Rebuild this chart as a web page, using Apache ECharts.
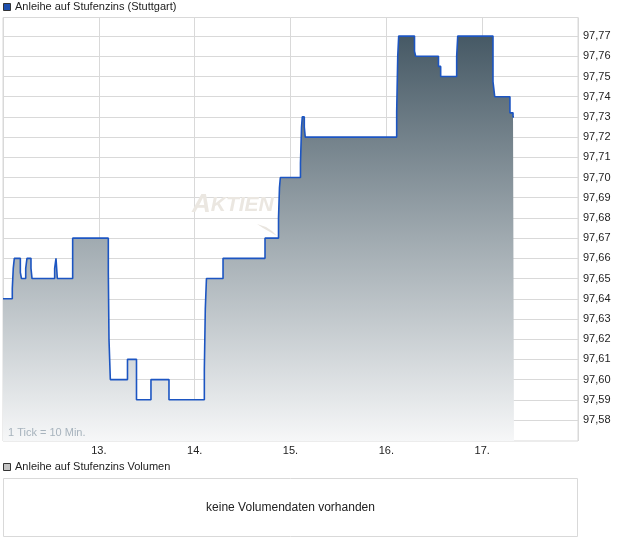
<!DOCTYPE html>
<html>
<head>
<meta charset="utf-8">
<script src="https://cdn.jsdelivr.net/npm/echarts@6/dist/echarts.min.js"></script>
<style>
html,body{margin:0;padding:0;background:#fff;}
#c{width:620px;height:546px;}
</style>
</head>
<body>
<div id="c"></div>
<script>
// Data: time in fractional days (day-of-month), price
const times = [12.000, 12.097, 12.107, 12.118, 12.181, 12.193, 12.237, 12.250, 12.292, 12.303,
  12.539, 12.553, 12.567, 12.727, 13.099, 13.106, 13.120, 13.299, 13.393, 13.544, 13.732,
  14.101, 14.111, 14.123, 14.296, 14.734, 14.875, 14.885, 14.894, 15.104, 15.115, 15.123,
  15.144, 15.154, 16.108, 16.119, 16.129, 16.294, 16.306, 16.544, 16.567, 16.734, 16.745,
  17.113, 17.131, 17.290, 17.322, 17.332];
const prices = [97.64, 97.645, 97.655, 97.66, 97.653, 97.65, 97.655, 97.66, 97.655, 97.65,
  97.655, 97.66, 97.65, 97.67, 97.653, 97.62, 97.60, 97.61, 97.59, 97.60, 97.59,
  97.605, 97.635, 97.65, 97.66, 97.67, 97.68, 97.695, 97.70, 97.707, 97.725, 97.73,
  97.725, 97.72, 97.7325, 97.76, 97.77, 97.7625, 97.76, 97.755, 97.75, 97.76, 97.77,
  97.7475, 97.74, 97.732, 97.73, 97.73];
const yTicks = [97.58, 97.59, 97.60, 97.61, 97.62, 97.63, 97.64, 97.65, 97.66, 97.67,
  97.68, 97.69, 97.70, 97.71, 97.72, 97.73, 97.74, 97.75, 97.76, 97.77];
const xDays = [13, 14, 15, 16, 17];
const seriesName = 'Anleihe auf Stufenzins (Stuttgart)';
const volumeName = 'Anleihe auf Stufenzins Volumen';
const noVolumeText = 'keine Volumendaten vorhanden';
const tickNote = '1 Tick = 10 Min.';

const FONT = '"Liberation Sans", Arial, sans-serif';
const chart = echarts.init(document.getElementById('c'), null, {renderer: 'canvas'});
const data = times.map((t, i) => [t, prices[i]]);

chart.setOption({
  animation: false,
  textStyle: {fontFamily: FONT},
  grid: {left: 3, right: 42, top: 17.5, bottom: 105, show: true, borderColor: '#d9d9d9', borderWidth: 1, backgroundColor: 'transparent'},
  xAxis: {
    type: 'value', min: 12, max: 18, interval: 1,
    axisLine: {show: false}, axisTick: {show: false},
    axisLabel: {
      color: '#222', fontSize: 11, fontFamily: FONT, margin: 4,
      showMinLabel: false, showMaxLabel: false,
      formatter: v => xDays.includes(v) ? v + '.' : ''
    },
    splitLine: {show: true, lineStyle: {color: '#d9d9d9', width: 1}}
  },
  yAxis: {
    type: 'value', position: 'right', min: 97.5696, max: 97.7792,
    axisLine: {show: false},
    axisTick: {show: false, customValues: yTicks},
    axisLabel: {
      customValues: yTicks,
      color: '#222', fontSize: 11, fontFamily: FONT, margin: 5,
      formatter: v => v.toFixed(2).replace('.', ',')
    },
    splitLine: {show: true, lineStyle: {color: '#d9d9d9', width: 1}}
  },
  series: [{
    name: seriesName,
    type: 'line', step: 'end', data: data, showSymbol: false,
    lineStyle: {color: '#1c55c2', width: 1.6},
    areaStyle: {
      origin: 'start', opacity: 1,
      color: {type: 'linear', x: 0, y: 0, x2: 0, y2: 1, colorStops: [
        {offset: 0, color: '#465965'},
        {offset: 0.5, color: '#a0aab0'},
        {offset: 1, color: '#f6f7f8'}
      ]}
    },
    z: 3
  }],
  graphic: [
    {type: 'text', left: 192, top: 192, z: 1, silent: true,
      style: {text: '{a|A}{b|KTIEN}', fontStyle: 'italic',
        rich: {a: {fontSize: 26, fontFamily: FONT, fontStyle: 'italic', fill: '#ebe7e1', fontWeight: 'bold'},
               b: {fontSize: 21, fontFamily: FONT, fontStyle: 'italic', fill: '#ebe7e1', fontWeight: 'bold'}}}},
    {type: 'polygon', z: 1, silent: true, shape: {points: [[257, 224], [266, 227], [272, 231], [277, 236], [270, 232], [263, 228]]},
      style: {fill: '#e9e5df'}},
    {type: 'text', left: 8, top: 427, z: 10,
      style: {text: tickNote, fontSize: 11, fontFamily: FONT, fill: '#a7b3bd'}},
    {type: 'rect', shape: {x: 3.5, y: 3.5, width: 7, height: 7},
      style: {fill: '#1e4fae', stroke: '#333', lineWidth: 1}},
    {type: 'text', left: 15, top: 1,
      style: {text: seriesName, fontSize: 11, fontFamily: FONT, fill: '#222'}},
    {type: 'rect', shape: {x: 3.5, y: 463.5, width: 7, height: 7},
      style: {fill: '#c4c4c4', stroke: '#333', lineWidth: 1}},
    {type: 'text', left: 15, top: 461,
      style: {text: volumeName, fontSize: 11, fontFamily: FONT, fill: '#222'}},
    {type: 'rect', shape: {x: 3.5, y: 478.5, width: 574, height: 58},
      style: {fill: '#fff', stroke: '#d9d9d9', lineWidth: 1}},
    {type: 'text', x: 290.5, y: 507.5,
      style: {text: noVolumeText, fontSize: 12, fontFamily: FONT, fill: '#222', align: 'center', verticalAlign: 'middle'}}
  ]
});
</script>
</body>
</html>
